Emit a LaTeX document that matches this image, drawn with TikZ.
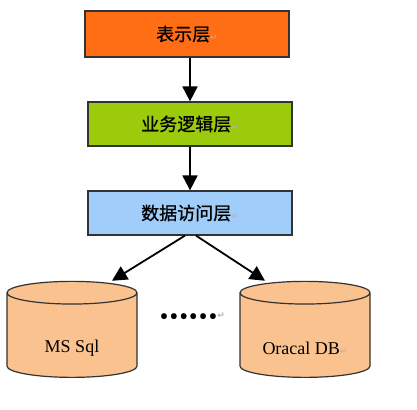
\documentclass[tikz,border=0pt]{standalone}
\usepackage{fontspec}
\setmainfont{Liberation Serif}
\newfontfamily\cjk[FakeBold=0.8]{Noto Sans CJK SC}
\newfontfamily\symb{DejaVu Sans}
\usetikzlibrary{shapes.geometric,arrows.meta}
\definecolor{layerorange}{HTML}{FF6E14}
\definecolor{layergreen}{HTML}{9BCB0A}
\definecolor{layerblue}{HTML}{A0CDFA}
\definecolor{dbtan}{HTML}{F9C28F}
\definecolor{edgegray}{HTML}{333333}
\newcommand{\retmark}{{\symb\fontsize{9}{9}\selectfont\color{black!30}↵}}
\tikzset{
  layer/.style={draw=edgegray, line width=1.2pt, minimum width=204pt,
    minimum height=44pt, inner sep=0pt, font=\cjk\fontsize{18}{18}\selectfont},
  db/.style={cylinder, shape border rotate=90, aspect=0.177, draw=edgegray,
    line width=1.2pt, fill=dbtan, minimum width=130pt, minimum height=96pt,
    inner xsep=64pt, inner ysep=0pt},
  dblabel/.style={font=\fontsize{18}{18}\selectfont, yshift=-7pt},
  flow/.style={line width=1.8pt, -{Triangle[length=15pt,width=15pt]}}
}
\begin{document}
\begin{tikzpicture}[x=1pt,y=-1pt]
\fill[white] (0,0) rectangle (417,409);
\useasboundingbox (0,0) rectangle (417,409);

% the three layers
\node[layer, fill=layerorange, minimum height=46pt] (pres) at (187,34) {表示层\retmark};
\node[layer, fill=layergreen] (logic) at (190,124) {业务逻辑层\retmark};
\node[layer, fill=layerblue] (data) at (190,213) {数据访问层\retmark};

% the databases
\node[db, label={[dblabel]center:MS Sql}] (ms) at (72,341) {};
\node[db, label={[dblabel]center:Oracal DB\retmark}] (ora) at (305,341) {};
\node[font=\cjk\bfseries\fontsize{26}{26}\selectfont] (dots) at (192,316) {……{\retmark}};

\draw[flow] (pres.south -| logic.north) -- (logic.north);
\draw[flow] (logic) -- (data);
\draw[flow] ([xshift=-5pt]data.south) -- ([xshift=40pt]ms.north);
\draw[flow] ([xshift=6pt]data.south) -- ([xshift=-40pt]ora.north);
\end{tikzpicture}
\end{document}
